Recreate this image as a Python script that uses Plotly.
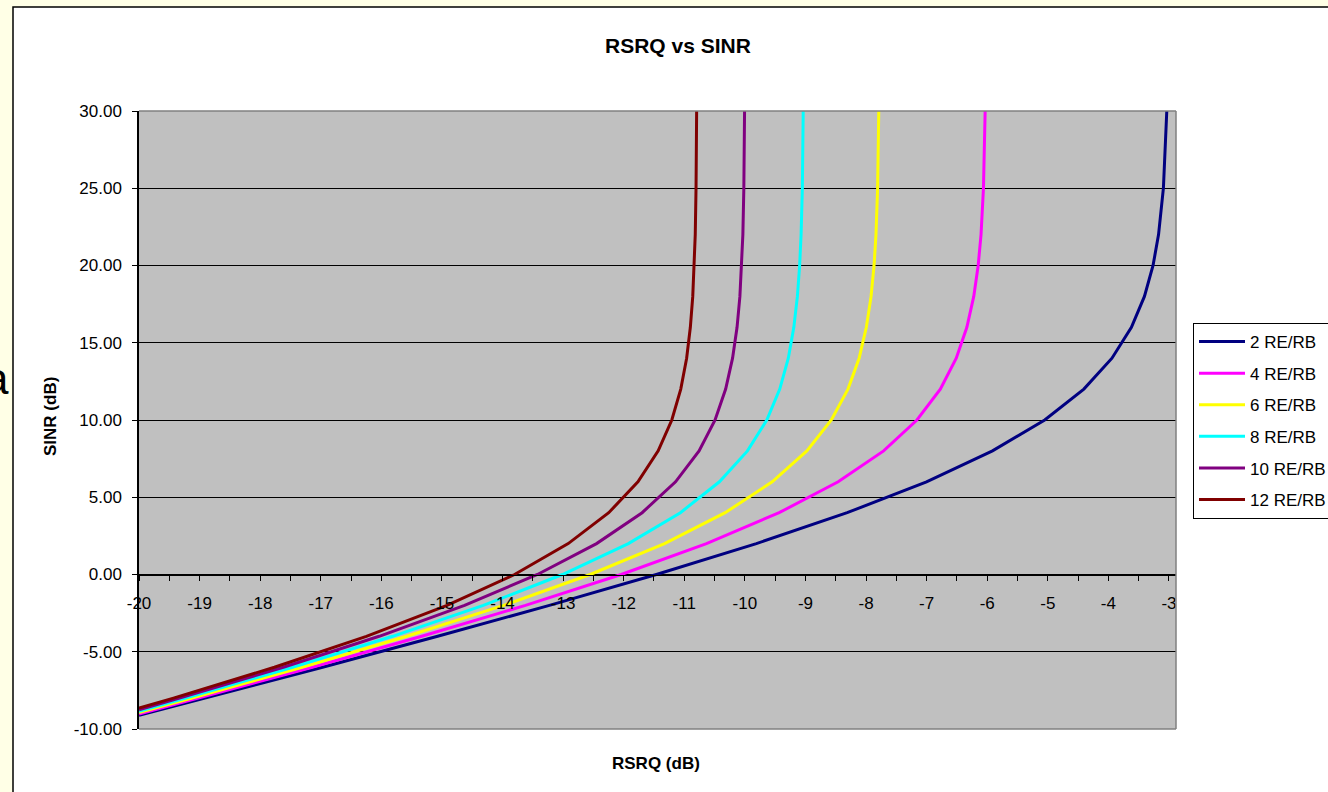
import plotly.graph_objects as go

# Series names and line colours
series_names = ["2 RE/RB", "4 RE/RB", "6 RE/RB", "8 RE/RB", "10 RE/RB", "12 RE/RB"]
series_colors = ["#000080", "#FF00FF", "#FFFF00", "#00FFFF", "#800080", "#800000"]

# SINR (dB) sample points of each curve
sinr_2 = [-9.12, -8, -6, -4, -2, 0, 2, 4, 6, 8, 10, 12, 14, 16, 18, 20, 22, 25, 30]
sinr_4 = [-9.03, -8, -6, -4, -2, 0, 2, 4, 6, 8, 10, 12, 14, 16, 18, 20, 22, 25, 30]
sinr_6 = [-8.94, -8, -6, -4, -2, 0, 2, 4, 6, 8, 10, 12, 14, 16, 18, 20, 22, 25, 30]
sinr_8 = [-8.85, -8, -6, -4, -2, 0, 2, 4, 6, 8, 10, 12, 14, 16, 18, 20, 22, 25, 30]
sinr_10 = [-8.75, -8, -6, -4, -2, 0, 2, 4, 6, 8, 10, 12, 14, 16, 18, 20, 22, 25, 30]
sinr_12 = [-8.65, -8, -6, -4, -2, 0, 2, 4, 6, 8, 10, 12, 14, 16, 18, 20, 22, 25, 30]

# RSRQ (dB) at those SINR points
rsrq_2 = [-20.0, -18.905, -16.970, -15.071, -13.226, -11.461, -9.810, -8.311, -7.002, -5.913,
          -5.051, -4.405, -3.941, -3.620, -3.405, -3.263, -3.172, -3.092, -3.036]
rsrq_4 = [-20.0, -19.016, -17.141, -15.333, -13.621, -12.041, -10.634, -9.434, -8.460, -7.710,
          -7.160, -6.774, -6.511, -6.336, -6.222, -6.149, -6.102, -6.062, -6.034]
rsrq_6 = [-20.0, -19.123, -17.306, -15.580, -13.983, -12.553, -11.326, -10.325, -9.549, -8.977,
          -8.573, -8.298, -8.114, -7.995, -7.917, -7.868, -7.836, -7.809, -7.790]
rsrq_8 = [-20.0, -19.228, -17.464, -15.814, -14.317, -13.010, -11.923, -11.064, -10.420, -9.957,
          -9.638, -9.424, -9.283, -9.192, -9.133, -9.096, -9.072, -9.051, -9.037]
rsrq_10 = [-20.0, -19.331, -17.617, -16.036, -14.627, -13.424, -12.448, -11.696, -11.144, -10.756,
           -10.492, -10.317, -10.203, -10.129, -10.082, -10.052, -10.033, -10.017, -10.005]
rsrq_12 = [-20.0, -19.431, -17.765, -16.247, -14.916, -13.802, -12.916, -12.247, -11.765, -11.431,
           -11.206, -11.058, -10.961, -10.900, -10.860, -10.835, -10.819, -10.806, -10.796]

# Axis ticks
x_tick_values = [-20, -19, -18, -17, -16, -15, -14, -13, -12, -11, -10, -9, -8, -7, -6, -5, -4, -3]
x_tick_labels = ["-20", "-19", "-18", "-17", "-16", "-15", "-14", "-13", "-12", "-11",
                 "-10", "-9", "-8", "-7", "-6", "-5", "-4", "-3"]
y_tick_values = [-10, -5, 0, 5, 10, 15, 20, 25, 30]
y_tick_labels = ["-10.00", "-5.00", "0.00", "5.00", "10.00", "15.00", "20.00", "25.00", "30.00"]

W, H = 1328, 792
FONT = "Arial, 'Liberation Sans', sans-serif"

# plot-area box in pixels
px_left, px_right, px_top, px_bottom = 139, 1176, 111, 729
xd = [px_left / W, px_right / W]
yd = [1 - px_bottom / H, 1 - px_top / H]
y_lo, y_hi = -10, 30
x_axis_pos = yd[0] + (0 - y_lo) / (y_hi - y_lo) * (yd[1] - yd[0])

fig = go.Figure()
curves = [(rsrq_2, sinr_2), (rsrq_4, sinr_4), (rsrq_6, sinr_6),
          (rsrq_8, sinr_8), (rsrq_10, sinr_10), (rsrq_12, sinr_12)]
for name, color, (xs, ys) in zip(series_names, series_colors, curves):
    fig.add_trace(go.Scatter(x=xs, y=ys, mode="lines", name=name, legendgroup=name,
                             line=dict(color=color, width=3)))

# x ticks every half unit, labelled on integers
x_ticks_all = []
x_text_all = []
for v, t in zip(x_tick_values, x_tick_labels):
    x_ticks_all.append(v)
    x_text_all.append(t)
    if v < x_tick_values[-1]:
        x_ticks_all.append(v + 0.5)
        x_text_all.append("")

fig.update_layout(
    width=W, height=H,
    margin=dict(l=0, r=0, t=0, b=0, autoexpand=False),
    paper_bgcolor="#FFFFE6",
    plot_bgcolor="rgba(0,0,0,0)",
    font=dict(family=FONT, size=17, color="black"),
    showlegend=True,
    xaxis=dict(domain=xd, range=[-20, -2.884], anchor="free", position=x_axis_pos,
               showline=True, linecolor="black", linewidth=1,
               ticks="outside", ticklen=5, tickcolor="black", tickwidth=1,
               tickmode="array", tickvals=x_ticks_all, ticktext=x_text_all,
               ticklabelstandoff=8,
               showgrid=False, zeroline=False, tickfont=dict(size=17, color="black")),
    yaxis=dict(domain=yd, range=[y_lo, y_hi],
               showline=True, linecolor="black", linewidth=1.5,
               ticks="outside", ticklen=5, tickcolor="black", tickwidth=1,
               tickmode="array", tickvals=y_tick_values, ticktext=y_tick_labels,
               ticklabelstandoff=7,
               showgrid=True, gridcolor="black", gridwidth=1, zeroline=False,
               tickfont=dict(size=17, color="black")),
    legend=dict(x=1193 / W, y=1 - 323 / H, xanchor="left", yanchor="top",
                bgcolor="white", bordercolor="black", borderwidth=1,
                font=dict(size=17, color="black"), itemwidth=46,
                tracegroupgap=6.5, traceorder="grouped"),
    shapes=[
        # white chart area with black frame
        dict(type="rect", xref="paper", yref="paper", x0=13 / W, x1=1.02, y0=-0.02, y1=1 - 7 / H,
             fillcolor="white", line=dict(color="black", width=1.5), layer="below"),
        # grey plot area
        dict(type="rect", xref="paper", yref="paper", x0=xd[0], x1=xd[1], y0=yd[0], y1=yd[1],
             fillcolor="#C0C0C0", line=dict(width=0), layer="below"),
        # grey plot-area border (top, right, bottom)
        dict(type="line", xref="paper", yref="paper", x0=xd[0], x1=xd[1], y0=yd[1], y1=yd[1],
             line=dict(color="#808080", width=1.5), layer="above"),
        dict(type="line", xref="paper", yref="paper", x0=xd[1], x1=xd[1], y0=yd[0], y1=yd[1],
             line=dict(color="#808080", width=1.5), layer="above"),
        dict(type="line", xref="paper", yref="paper", x0=xd[0], x1=xd[1], y0=yd[0], y1=yd[0],
             line=dict(color="#808080", width=1.5), layer="above"),
    ],
    annotations=[
        dict(text="<b>RSRQ vs SINR</b>", xref="paper", yref="paper", x=678 / W, y=1 - 46 / H,
             xanchor="center", yanchor="middle", showarrow=False, font=dict(size=21)),
        dict(text="<b>RSRQ (dB)</b>", xref="paper", yref="paper", x=656 / W, y=1 - 763 / H,
             xanchor="center", yanchor="middle", showarrow=False, font=dict(size=17)),
        dict(text="<b>SINR (dB)</b>", xref="paper", yref="paper", x=50 / W, y=1 - 417 / H,
             xanchor="center", yanchor="middle", showarrow=False, textangle=-90,
             font=dict(size=17)),
        dict(text="a", xref="paper", yref="paper", x=10 / W, y=1 - 378 / H,
             xanchor="right", yanchor="middle", showarrow=False, borderpad=0,
             font=dict(size=44)),
    ],
)

fig.write_html("out.html")
